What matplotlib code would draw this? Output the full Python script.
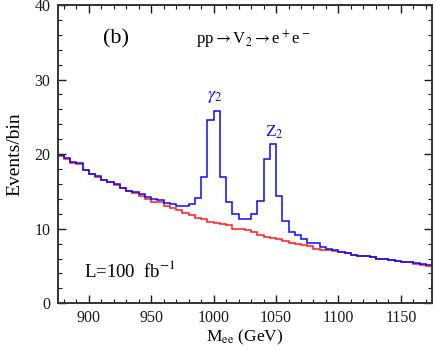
import numpy as np
import matplotlib
matplotlib.use("Agg")
import matplotlib.pyplot as plt
from matplotlib.ticker import MultipleLocator

# bin edges of the M_ee histogram (GeV), 5 GeV bins
bin_lo = 875
bin_hi = 1175
bin_w = 5

# background only (Drell-Yan), events per bin
background = [19.8, 19.4, 18.8, 18.7, 17.9, 17.3, 17.0, 16.5, 16.2, 15.9,
              15.4, 15.0, 14.8, 14.4, 14.0, 13.65, 13.6, 13.1, 12.75, 12.45,
              12.1, 11.8, 11.5, 11.3, 10.9, 10.75, 10.7, 10.5, 10.0, 9.95,
              9.8, 9.6, 9.2, 8.9, 8.8, 8.6, 8.3, 8.1, 8.0, 7.8,
              7.7, 7.3, 7.2, 7.1, 7.0, 6.9, 6.7, 6.5, 6.4, 6.3,
              6.2, 6.0, 5.9, 5.85, 5.7, 5.6, 5.5, 5.3, 5.2, 5.0]

# signal + background (gamma_2 and Z_2 resonances)
total = [19.9, 19.5, 18.9, 18.8, 17.9, 17.4, 17.1, 16.6, 16.3, 16.0,
         15.5, 15.1, 14.9, 14.6, 14.2, 14.0, 13.8, 13.5, 13.3, 13.0,
         13.0, 13.3, 14.1, 17.0, 24.6, 25.8, 17.0, 13.6, 12.0, 11.3,
         11.3, 11.95, 13.75, 19.35, 21.3, 14.4, 11.05, 9.6, 9.2, 8.6,
         8.15, 8.1, 7.5, 7.3, 7.1, 6.9, 6.7, 6.5, 6.4, 6.3,
         6.2, 6.0, 5.95, 5.85, 5.7, 5.6, 5.5, 5.35, 5.25, 5.1]

edges = np.arange(bin_lo, bin_hi + bin_w, bin_w)

plt.rcParams['font.family'] = ['Liberation Serif', 'DejaVu Serif']
plt.rcParams['mathtext.fontset'] = 'stix'

fig = plt.figure(figsize=(4.36, 3.5), dpi=100)
ax = fig.add_axes([0.132, 0.1334, 0.859, 0.8523])

ax.stairs(background, edges, baseline=None, color='#ff1a1a', lw=1.1)
ax.stairs(total, edges, baseline=None, color='#0a0aff', lw=1.1)

ax.set_xlim(bin_lo, bin_hi)
ax.set_ylim(0, 40)
ax.xaxis.set_major_locator(MultipleLocator(50))
ax.xaxis.set_minor_locator(MultipleLocator(10))
ax.yaxis.set_major_locator(MultipleLocator(10))
ax.yaxis.set_minor_locator(MultipleLocator(2))
ax.tick_params(which='both', direction='in', top=True, right=True,
               labelsize=11.5, colors='#1a1a1a', pad=5)
ax.tick_params(which='major', length=6, width=1.0)
ax.tick_params(which='minor', length=3, width=0.8)
for s in ax.spines.values():
    s.set_linewidth(1.4)
    s.set_color('#333333')

ax.set_ylabel('Events/bin', fontsize=14, labelpad=8)
ax.set_xlabel(r'M$_{\mathrm{ee}}$ (GeV)', fontsize=12.5, labelpad=1)

ax.text(0.155, 0.885, '(b)', transform=ax.transAxes, fontsize=16,
        ha='center', va='center')
ax.text(0.37, 0.885, r'pp$\rightarrow$V$_2$$\rightarrow$e$^+$e$^-$',
        transform=ax.transAxes, fontsize=12, ha='left', va='center')
ax.text(1001, 26.6, r'$\gamma_2$', color='#0a0aff', fontsize=13,
        ha='center', va='bottom')
ax.text(1049, 21.8, r'Z$_2$', color='#0a0aff', fontsize=12.5,
        ha='center', va='bottom')
ax.text(0.07, 0.11, r'L=100  fb$^{-1}$', transform=ax.transAxes,
        fontsize=13.5, ha='left', va='center')

fig.savefig('out.png', dpi=100)
